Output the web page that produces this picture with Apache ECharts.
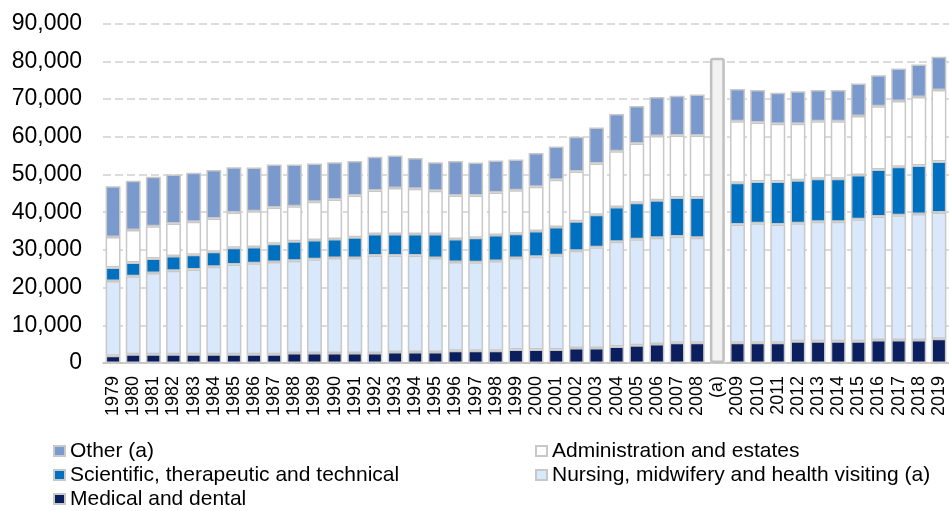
<!DOCTYPE html>
<html>
<head>
<meta charset="utf-8">
<script src="https://cdn.jsdelivr.net/npm/echarts@6/dist/echarts.min.js"></script>
<style>
  html, body { margin: 0; padding: 0; background: #fff; }
  #chart { width: 949px; height: 511px; }
</style>
</head>
<body>
<div id="chart"></div>
<script>
// categories: 1979..2008, break marker "(a)", 2009..2019
var categories = ['1979','1980','1981','1982','1983','1984','1985','1986','1987','1988',
  '1989','1990','1991','1992','1993','1994','1995','1996','1997','1998',
  '1999','2000','2001','2002','2003','2004','2005','2006','2007','2008',
  '(a)',
  '2009','2010','2011','2012','2013','2014','2015','2016','2017','2018','2019'];

var medical = [1950,2300,2300,2300,2300,2300,2300,2300,2300,2650,
  2650,2650,2650,2650,2900,2900,2900,3250,3250,3250,
  3600,3600,3600,4000,4000,4350,4700,5050,5400,5400,
  '-',
  5400,5400,5400,5750,5750,5750,5750,6100,6100,6100,6450];

var nursing = [19800,20700,21600,22150,22500,23200,23800,24150,24500,24500,
  24850,25200,25200,25850,25600,25600,24950,23550,23450,23800,
  24250,24600,24950,25750,26700,27800,28150,28150,28150,27800,
  '-',
  31350,31700,31350,31350,31700,31700,32400,32750,33100,33450,33450];

var scientific = [3550,3650,3800,3950,3900,4000,4450,4350,4800,5150,
  5150,5050,5500,5750,5750,5750,6350,6100,6550,6900,
  6450,6800,7500,7850,8650,9200,9650,10000,10350,10700,
  '-',
  11050,11050,11400,11400,11400,11400,11750,12500,12850,12850,13550];

var admin = [8150,8600,8600,8600,8750,8850,9400,9450,9650,9300,
  10100,10450,11050,11500,12200,11950,11500,11500,11150,11250,
  11500,11750,12550,13200,13550,14800,15750,17000,16450,16450,
  '-',
  16350,15650,15300,14950,15300,15300,15650,16750,17450,18150,18950];

var other = [13450,13100,13100,13000,13000,12850,11950,11600,11400,11050,
  10150,9900,9200,8950,8600,8150,7550,9200,8750,8500,
  8150,8950,8850,9200,9550,9900,9900,10350,10550,10900,
  '-',
  8500,8600,8250,8600,8250,8250,8600,8250,8600,8600,8850];

// grey break bar drawn only at the "(a)" position
var breakBar = [];
for (var i = 0; i < categories.length; i++) {
  breakBar.push(categories[i] === '(a)' ? 81000 : '-');
}

var yTicks = [0,10000,20000,30000,40000,50000,60000,70000,80000,90000];

var FONT = 'Liberation Sans, Arial, sans-serif';
var BORDER = '#c8c8c8';

function barSeries(name, data, color) {
  return {
    name: name,
    type: 'bar',
    stack: 'total',
    data: data,
    barCategoryGap: '26%',
    itemStyle: { color: color, borderColor: BORDER, borderWidth: 1.5 },
    emphasis: { disabled: true }
  };
}

// one legend per entry so the two columns line up like the original
function legendAt(name, left, top) {
  return {
    left: left, top: top,
    padding: 0,
    itemWidth: 11, itemHeight: 10,
    icon: 'rect',
    selectedMode: false,
    textStyle: { fontSize: 21, color: '#000', fontFamily: FONT, lineHeight: 22 },
    data: [name]
  };
}

var chart = echarts.init(document.getElementById('chart'));

var option = {
  backgroundColor: '#fff',
  animation: false,
  textStyle: { fontFamily: FONT },
  grid: { left: 103, top: 23.7, width: 851, bottom: 148, containLabel: false },
  legend: [
    legendAt('Other (a)', 53, 440),
    legendAt('Scientific, therapeutic and technical', 53, 464),
    legendAt('Medical and dental', 53, 488),
    legendAt('Administration and estates', 535, 440),
    legendAt('Nursing, midwifery and health visiting (a)', 535, 464)
  ],
  xAxis: {
    type: 'category',
    data: categories,
    axisLine: { show: true, lineStyle: { color: '#bfbfbf', width: 1.5 } },
    axisTick: { show: false },
    axisLabel: {
      interval: 0, rotate: 90, margin: 13,
      fontSize: 18, color: '#000', fontFamily: FONT
    }
  },
  yAxis: {
    type: 'value',
    min: 0, max: 90000, interval: 10000,
    axisLine: { show: false },
    axisTick: { show: false },
    splitLine: { lineStyle: { color: '#d0d0d0', width: 1.5, type: [8, 4] } },
    axisLabel: {
      margin: 21, fontSize: 23, color: '#000', fontFamily: FONT,
      formatter: function (v) { return yTicks.indexOf(v) >= 0 ? v.toLocaleString('en-US') : ''; }
    }
  },
  series: [
    barSeries('Medical and dental', medical, '#0b1f5e'),
    barSeries('Nursing, midwifery and health visiting (a)', nursing, '#dae8fc'),
    barSeries('Scientific, therapeutic and technical', scientific, '#0070c0'),
    barSeries('Administration and estates', admin, '#ffffff'),
    barSeries('Other (a)', other, '#7a9acd'),
    {
      name: 'break',
      type: 'bar',
      stack: 'total',
      data: breakBar,
      itemStyle: { color: '#f2f2f2', borderColor: '#c0c0c0', borderWidth: 2.5, borderRadius: 2 },
      emphasis: { disabled: true }
    }
  ]
};

chart.setOption(option);
</script>
</body>
</html>
